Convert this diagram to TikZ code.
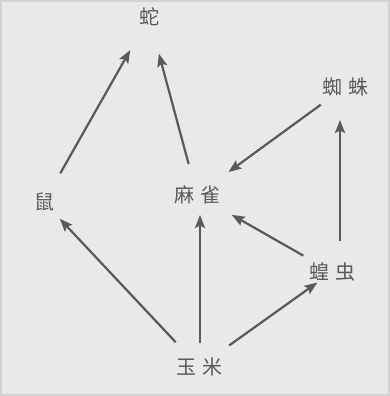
\documentclass[tikz,border=0pt]{standalone}
\usepackage{fontspec}
\newfontfamily\cjk{Noto Sans CJK SC}
\usetikzlibrary{arrows.meta}
\definecolor{bg}{HTML}{E9E9E7}
\definecolor{ink}{HTML}{595959}
\definecolor{frame}{HTML}{D2D2D0}
\tikzset{
  animal/.style={inner sep=0pt, text=ink, font=\cjk\fontsize{20}{20}\selectfont},
  feed/.style={draw=ink, line width=2.2pt, -{Stealth[length=13pt,width=10pt,inset=2.5pt]}}
}
\begin{document}
\begin{tikzpicture}[x=1pt,y=-1pt]
\fill[bg] (0,0) rectangle (390,396);
\draw[frame, line width=2pt] (1,1) rectangle (389,395);
\useasboundingbox (0,0) rectangle (390,396);
\node[animal] (she) at (149,17) {蛇};
\node[animal] (zz) at (345,87) {蜘\hspace{6pt}蛛};
\node[animal] (shu) at (44,202) {鼠};
\node[animal] (mq) at (197,195) {麻\hspace{6pt}雀};
\node[animal] (hc) at (332,272) {蝗\hspace{6pt}虫};
\node[animal] (ym) at (199,367) {玉\hspace{6pt}米};
\draw[feed, shorten <=33pt, shorten >=38pt] (shu.center) -- (she.center);
\draw[feed, shorten <=32pt, shorten >=38pt] (mq.center) -- (she.center);
\draw[feed, shorten <=30pt, shorten >=39pt] (zz.center) -- (mq.center);
\draw[feed, shorten <=33pt, shorten >=40pt] (hc.center) -- (mq.center);
\draw[feed, shorten <=31pt, shorten >=33pt] ([xshift=8pt]hc.center) -- ([xshift=-5pt]zz.center);
\draw[feed, shorten <=34pt, shorten >=23pt] (ym.center) -- (shu.center);
\draw[feed, shorten <=24pt, shorten >=20pt] ([xshift=1pt]ym.center) -- ([xshift=3pt]mq.center);
\draw[feed, shorten <=37pt, shorten >=18pt] (ym.center) -- (hc.center);
\end{tikzpicture}
\end{document}
